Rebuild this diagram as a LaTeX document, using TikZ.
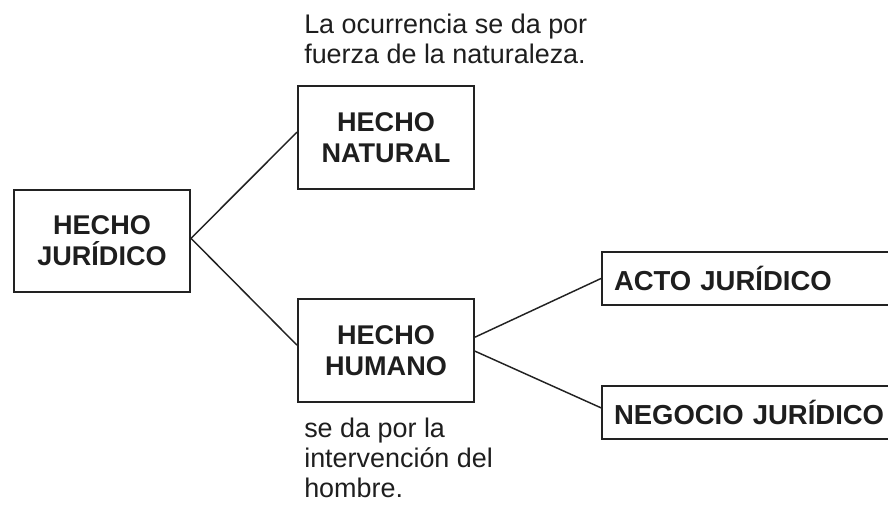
\documentclass[tikz,border=0pt]{standalone}
\usepackage{fontspec}
\setmainfont{Liberation Sans}
\begin{document}
\begin{tikzpicture}[x=0.75pt, y=-0.75pt]
    \definecolor{borderColour}{HTML}{222222}
    \definecolor{textColour}{HTML}{1E1E1E}

    \tikzset{
        boxNode/.style={draw=borderColour, line width=1.5pt, text=textColour,
            font=\fontsize{20.3}{23}\selectfont\bfseries, align=center,
            minimum width=132pt, minimum height=77pt, inner sep=0pt},
        wideBox/.style={draw=borderColour, line width=1.5pt, text=textColour,
            font=\fontsize{20.6}{23}\selectfont\bfseries, anchor=west, align=left,
            minimum height=40pt, inner sep=9pt, text width=240pt},
        noteNode/.style={text=textColour, font=\fontsize{20.2}{22.5}\selectfont,
            align=left, anchor=north west, inner sep=0pt},
        linkLine/.style={draw=borderColour, line width=1.1pt}
    }

    % Fix page size
    \clip (0,0) rectangle (888,505);

    % Draw boxes
    \node[boxNode] (hecho) at (102,241) {HECHO\\JURÍDICO};
    \node[boxNode] (natural) at (386,137.5) {HECHO\\NATURAL};
    \node[boxNode] (humano) at (386,350.5) {HECHO\\HUMANO};
    \node[wideBox] (acto) at (601,278.5) {ACTO JURÍDICO};
    \node[wideBox] (negocio) at (601,412.5) {NEGOCIO JURÍDICO};

    % Draw notes
    \node[noteNode] (notaNatural) at (304,14) {La ocurrencia se da por\\fuerza de la naturaleza.};
    \node[noteNode] (notaHumano) at (304,417.5) {se da por la\\intervención del\\hombre.};

    % Draw connectors
    \draw[linkLine] ([yshift=2pt]hecho.east) -- ([yshift=4pt]natural.west);
    \draw[linkLine] ([yshift=2pt]hecho.east) -- ([yshift=4pt]humano.west);
    \draw[linkLine] ([yshift=10pt]humano.east) -- (acto.west);
    \draw[linkLine] ([yshift=-0.5pt]humano.east) -- ([yshift=3.5pt]negocio.west);

\end{tikzpicture}
\end{document}
